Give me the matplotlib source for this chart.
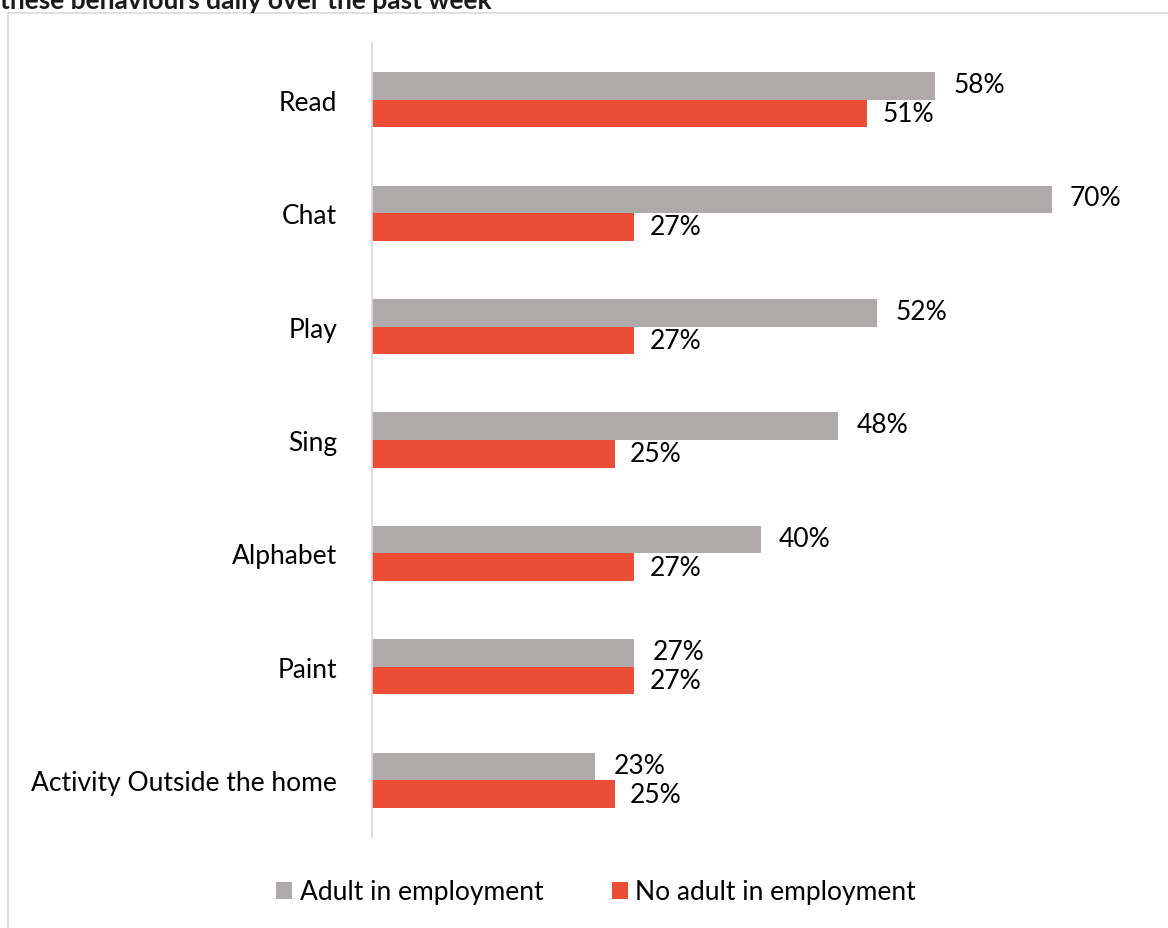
import numpy as np
import matplotlib.pyplot as plt
from matplotlib.patches import Rectangle

plt.rcParams['font.family'] = ['Lato', 'DejaVu Sans']

categories = ['Read', 'Chat', 'Play', 'Sing', 'Alphabet', 'Paint', 'Activity Outside the home']
employed = [58, 70, 52, 48, 40, 27, 23]
not_employed = [51, 27, 27, 25, 27, 27, 25]
series_names = ['Adult in employment', 'No adult in employment']
colors = ['#AEAAAA', '#EC4D37']

W, H = 1168, 929
fig = plt.figure(figsize=(W / 100, H / 100), dpi=100)

# outer chart border (partly cut off like the source)
fig.patches.append(Rectangle((8 / W, -0.05), 1.2, 1 - 14 / H + 0.05, transform=fig.transFigure,
                             fill=False, edgecolor='#D9D9D9', linewidth=1.2))

# clipped title at the very top
fig.text(0.0, 1 - 9 / H, 'these behaviours daily over the past week', fontsize=19,
         fontweight='bold', ha='left', va='baseline', color='#1a1a1a')

ax = fig.add_axes([372 / W, 1 - 838 / H, 777 / W, (838 - 44) / H])
y = np.arange(len(categories))
h = 0.243
ax.barh(y - h / 2, employed, height=h, color=colors[0], label=series_names[0])
ax.barh(y + h / 2, not_employed, height=h, color=colors[1], label=series_names[1])

for i in range(len(categories)):
    ax.annotate(f'{employed[i]}%', (employed[i], y[i] - h / 2), xytext=(13, 1),
                textcoords='offset points', va='center', ha='left', fontsize=19)
    ax.annotate(f'{not_employed[i]}%', (not_employed[i], y[i] + h / 2), xytext=(11, 0),
                textcoords='offset points', va='center', ha='left', fontsize=19)

ax.set_xlim(0, 80)
ax.set_ylim(len(categories) - 0.5, -0.5)
ax.set_yticks(y)
ax.set_yticklabels(categories, fontsize=19)
ax.tick_params(axis='y', length=0, pad=25)
ax.set_xticks([])
for s in ['top', 'right', 'bottom']:
    ax.spines[s].set_visible(False)
ax.spines['left'].set_color('#D9D9D9')
ax.spines['left'].set_linewidth(1.2)

fig.legend(loc='center', bbox_to_anchor=(596 / W, 1 - 893 / H), ncol=2, frameon=False,
           fontsize=19, handlelength=0.6, handleheight=0.6, handletextpad=0.3,
           columnspacing=2.6)

fig.savefig('out.png', dpi=100)
